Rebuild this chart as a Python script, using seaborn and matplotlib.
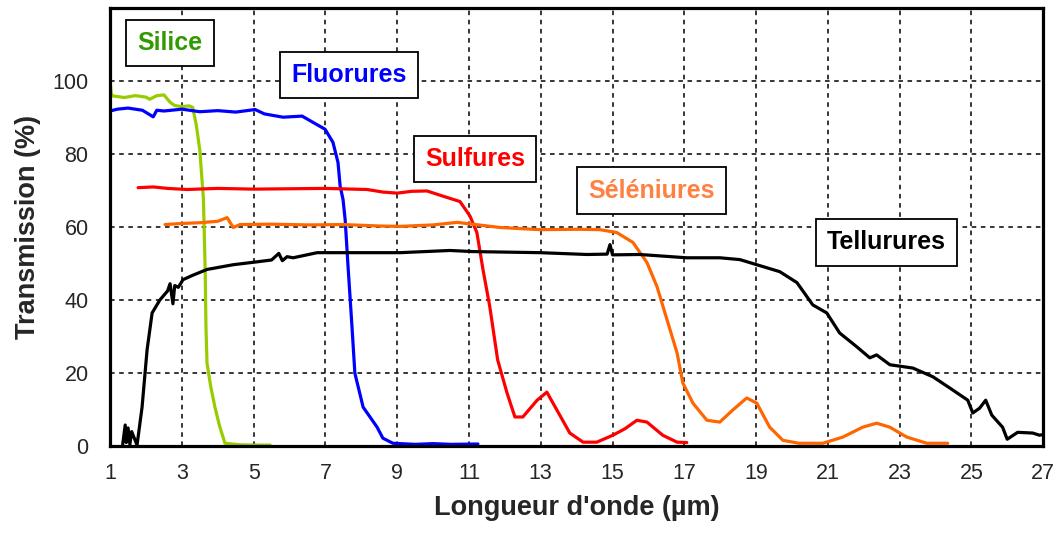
import numpy as np
import pandas as pd
import matplotlib
matplotlib.use("Agg")
import matplotlib.pyplot as plt
from matplotlib.ticker import MultipleLocator
import seaborn as sns

# Courbes de transmission (longueur d'onde en µm, transmission en %)
silice_x = [1.0, 1.03, 1.08, 1.4, 1.7, 2.0, 2.1, 2.3, 2.5, 2.67, 2.8, 3.0, 3.2, 3.3, 3.4,
            3.5, 3.6, 3.65, 3.67, 3.7, 3.8, 3.92, 4.05, 4.2, 4.6, 5.0, 5.46]
silice_y = [100, 96.5, 95.9, 95.5, 96.0, 95.6, 95.0, 96.0, 96.2, 94.2, 93.3, 93.0, 93.2, 92.8, 88,
            81, 67.6, 47.5, 32.7, 22.8, 16.5, 10.7, 5.5, 0.8, 0.4, 0.3, 0.3]

fluor_x = [1.0, 1.2, 1.5, 1.9, 2.2, 2.3, 2.5, 3.0, 3.5, 4.0, 4.5, 5.04, 5.3, 5.82, 6.35, 6.65,
           6.99, 7.21, 7.35, 7.41, 7.49, 7.55, 7.63, 7.74, 7.82, 8.05, 8.44, 8.6, 8.88, 9.5,
           10.0, 10.5, 11.25]
fluor_y = [91.8, 92.3, 92.6, 92.0, 90.2, 92.0, 91.8, 92.3, 91.6, 91.9, 91.5, 92.2, 91.0, 90.1, 90.4,
           88.7, 86.8, 83.2, 77.7, 71.2, 67.6, 62.0, 49.2, 32.7, 20.0, 10.7, 5.2, 2.2, 0.8, 0.5,
           0.7, 0.5, 0.6]

sulf_x = [1.78, 2.2, 2.6, 3.14, 4.0, 5.0, 6.0, 7.0, 8.16, 8.6, 9.0, 9.4, 9.83, 10.3, 10.75,
          11.03, 11.22, 11.39, 11.58, 11.8, 12.06, 12.28, 12.5, 12.9, 13.17, 13.45, 13.81,
          14.18, 14.56, 15.01, 15.35, 15.68, 15.96, 16.4, 16.8, 17.07]
sulf_y = [70.8, 71.0, 70.6, 70.3, 70.6, 70.4, 70.5, 70.6, 70.3, 69.6, 69.3, 69.8, 69.9, 68.4, 67.0,
          63.0, 58.5, 48.4, 38.2, 23.6, 14.6, 8.0, 8.0, 12.6, 14.8, 9.9, 3.6,
          1.1, 1.1, 3.0, 4.8, 7.1, 6.6, 3.0, 1.1, 1.0]

selen_x = [2.53, 3.0, 3.5, 4.0, 4.26, 4.43, 4.62, 5.5, 6.5, 7.5, 8.5, 9.08, 10.0, 10.67, 11.86,
           12.98, 14.0, 14.65, 15.12, 15.57, 15.96, 16.24, 16.52, 16.8, 16.96, 17.24, 17.63,
           17.99, 18.35, 18.74, 19.02, 19.38, 19.75, 20.2, 20.86, 21.42, 21.97, 22.36, 22.73,
           23.2, 23.76, 24.34]
selen_y = [60.7, 61.0, 61.2, 61.6, 62.6, 59.9, 60.7, 60.8, 60.6, 60.7, 60.3, 60.2, 60.6, 61.3, 59.9,
           59.3, 59.4, 59.3, 58.5, 55.8, 50.3, 43.7, 34.6, 25.5, 17.3, 11.8, 7.1,
           6.6, 9.9, 13.2, 11.8, 5.2, 1.6, 0.8, 0.8, 2.5, 5.2, 6.3, 5.2,
           2.5, 0.8, 0.8]

tell_x = [1.35, 1.42, 1.45, 1.5, 1.55, 1.6, 1.75, 1.89, 2.03, 2.17, 2.39, 2.6, 2.67, 2.75, 2.8,
          2.9, 3.03, 3.3, 3.7, 4.43, 5.1, 5.5, 5.7, 5.8, 5.93, 6.1, 6.77, 7.96, 9.08, 10.47, 11.1,
          12.98, 14.29, 14.85, 14.93, 15.0, 15.76, 17.07, 17.99, 18.55, 19.02, 19.66, 20.14,
          20.58, 20.97, 21.33, 21.81, 22.17, 22.36, 22.73, 23.37, 23.93, 24.48, 24.9, 25.04,
          25.23, 25.4, 25.57, 25.87, 26.0, 26.29, 26.71, 26.9, 27.0]
tell_y = [0.5, 5.8, 1.0, 5.0, 0.5, 4.0, 0.3, 10.7, 26.4, 36.5, 40.1, 42.5, 44.5, 39.0, 44.0,
          43.5, 45.6, 46.8, 48.4, 49.7, 50.5, 51.0, 52.8, 50.8, 51.9, 51.6, 53.0, 53.0, 53.0, 53.6,
          53.3, 53.0, 52.5, 52.6, 55.2, 52.4, 52.5, 51.6, 51.6, 51.1, 49.7, 47.8, 44.8,
          38.7, 36.5, 31.0, 27.2, 24.2, 25.0, 22.3, 21.4, 19.0, 15.4, 12.6, 9.1,
          10.4, 12.6, 8.5, 5.2, 1.9, 3.8, 3.6, 3.0, 3.2]

noms = ["Silice", "Fluorures", "Sulfures", "Séléniures", "Tellurures"]
couleurs_courbes = ["#99CC00", "#0000FF", "#FF0000", "#FF6600", "#000000"]
couleurs_textes = ["#339900", "#0000FF", "#FF0000", "#FF8040", "#000000"]
# position des étiquettes (coordonnées des données)
etiquettes_x = [2.67, 7.66, 11.17, 16.1, 22.64]
etiquettes_y = [110.4, 101.6, 78.6, 70.0, 55.8]

series = [(silice_x, silice_y), (fluor_x, fluor_y), (sulf_x, sulf_y),
          (selen_x, selen_y), (tell_x, tell_y)]
df = pd.concat([pd.DataFrame({"x": sx, "y": sy, "verre": nom})
                for nom, (sx, sy) in zip(noms, series)], ignore_index=True)

sns.set_style("white")
plt.rcParams["font.family"] = ["Liberation Sans", "DejaVu Sans"]

fig = plt.figure(figsize=(10.59, 5.35), dpi=100)
ax = fig.add_axes([0.104, 0.166, 0.881, 0.819])

sns.lineplot(data=df, x="x", y="y", hue="verre", palette=dict(zip(noms, couleurs_courbes)),
             sort=False, estimator=None, linewidth=2.3, legend=False, ax=ax)

ax.set_xlim(1, 27)
ax.set_ylim(0, 120)
ax.set_xticks(np.arange(1, 28, 2))
ax.set_yticks(np.arange(0, 101, 20))
ax.xaxis.set_minor_locator(MultipleLocator(0.5))
ax.grid(True, which="major", color="black", linestyle=(0, (3, 3)), linewidth=1.1)
# pas de grille sur les bords
for gl in ax.get_xgridlines()[:1] + ax.get_xgridlines()[-1:] + ax.get_ygridlines()[:1]:
    gl.set_visible(False)

ax.tick_params(axis="x", which="major", direction="in", length=0, pad=12, labelsize=15.5)
ax.tick_params(axis="x", which="minor", direction="in", length=4, width=1, color="black")
ax.tick_params(axis="y", which="major", direction="inout", length=9, width=1.2,
               color="black", pad=11, labelsize=15.5)

for side in ["left", "bottom", "top", "right"]:
    ax.spines[side].set_color("black")
    ax.spines[side].set_linewidth(2.3)

ax.set_xlabel("Longueur d'onde (µm)", fontsize=19.5, fontweight="bold", labelpad=8)
ax.set_ylabel("Transmission (%)", fontsize=19.5, fontweight="bold", labelpad=8)

for nom, tx, ty, c in zip(noms, etiquettes_x, etiquettes_y, couleurs_textes):
    ax.text(tx, ty, nom, color=c, fontsize=18, fontweight="bold", ha="center", va="center",
            bbox=dict(boxstyle="square,pad=0.45", facecolor="white", edgecolor="black",
                      linewidth=1.3), zorder=5)

fig.savefig("out.png", dpi=100)
